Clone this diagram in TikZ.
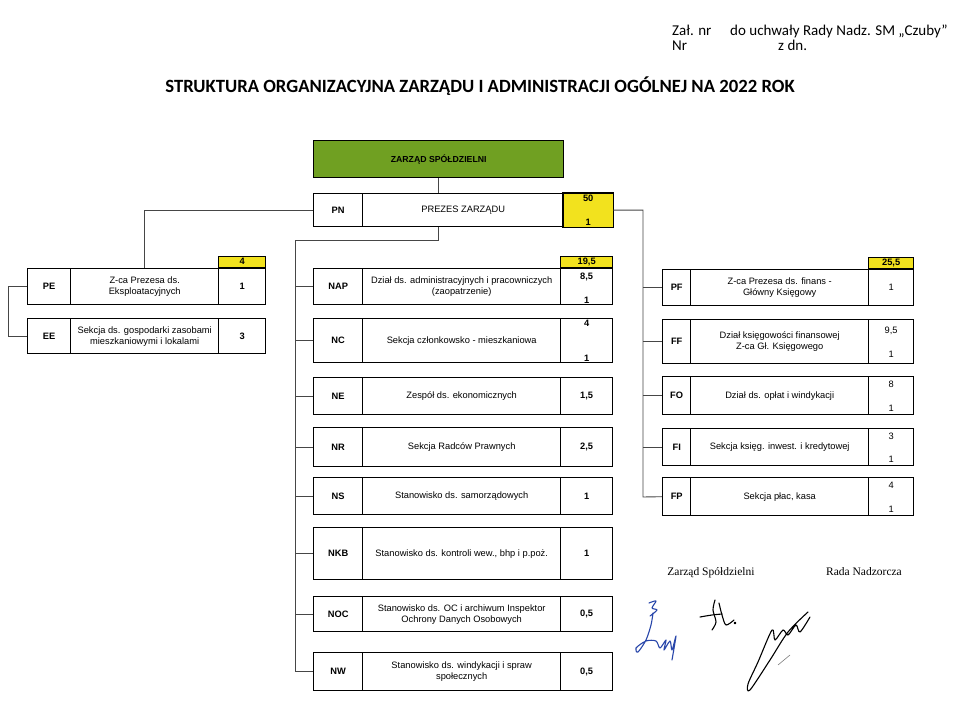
\documentclass[tikz,border=0pt]{standalone}
\usepackage{fontspec}
\setmainfont{Liberation Sans}
\newfontfamily\calib{Carlito}
\newfontfamily\tms{Liberation Serif}
\definecolor{zgreen}{RGB}{112,160,34}
\definecolor{zyellow}{RGB}{242,226,30}
\definecolor{conncol}{RGB}{70,70,70}
\definecolor{sigblue}{RGB}{40,70,170}
\newcommand\fsz{\fontsize{9.3}{11.2}\selectfont}
\tikzset{
  cellbase/.style={draw, line width=1.4pt, inner sep=0pt, anchor=north west, font=\fsz},
  cellc/.style={cellbase, font=\fsz\bfseries},
  celll/.style={cellbase, align=center},
  celln/.style={cellbase},
  yel/.style={draw, line width=1.4pt, fill=zyellow, inner sep=0pt, anchor=south west, font=\fsz\bfseries, minimum height=11pt},
  num/.style={inner sep=0pt, font=\fsz},
  bnum/.style={inner sep=0pt, font=\fsz\bfseries},
  conn/.style={draw=conncol, line width=0.9pt},
  sig/.style={line width=1.1pt, line cap=round, line join=round},
}
% #1 prefix, #2 xl, #3 xc, #4 xn, #5 xr, #6 ytop, #7 ybottom, #8 code, #9 label
\newcommand\orow[9]{%
  \pgfmathsetmacro\wc{#3-#2}\pgfmathsetmacro\wl{#4-#3}%
  \pgfmathsetmacro\wn{#5-#4}\pgfmathsetmacro\hh{#7-#6}%
  \node[cellc, minimum width=\wc pt, minimum height=\hh pt] (#1c) at (#2,#6) {#8};
  \node[celll, minimum width=\wl pt, minimum height=\hh pt] (#1l) at (#3,#6) {#9};
  \node[celln, minimum width=\wn pt, minimum height=\hh pt] (#1n) at (#4,#6) {};
}
\begin{document}
\begin{tikzpicture}[x=1pt,y=-1pt]
\useasboundingbox (0,0) rectangle (962,708);
\fill[white] (0,0) rectangle (962,708);

% header
\node[anchor=base west, inner sep=0pt, font=\calib\fontsize{15}{17}\selectfont] (h1) at (672,36) {Zał. nr};
\node[anchor=base west, inner sep=0pt, font=\calib\fontsize{15}{17}\selectfont] (h2) at (730,36) {do uchwały Rady Nadz. SM „Czuby”};
\node[anchor=base west, inner sep=0pt, font=\calib\fontsize{15}{17}\selectfont] (h3) at (672,51) {Nr};
\node[anchor=base west, inner sep=0pt, font=\calib\fontsize{15}{17}\selectfont] (h4) at (778,51) {z dn.};
\node[anchor=base, inner sep=0pt, font=\calib\bfseries\fontsize{18.7}{21}\selectfont] (title) at (480,93) {STRUKTURA ORGANIZACYJNA ZARZĄDU I ADMINISTRACJI OGÓLNEJ NA 2022 ROK};

% top
\node[draw, line width=1.4pt, fill=zgreen, anchor=north west, minimum width=250pt, minimum height=37pt, inner sep=0pt, font=\fontsize{8.7}{10}\selectfont\bfseries] (ZS) at (313,140) {ZARZĄD SPÓŁDZIELNI};
\orow{PN}{313}{362}{563}{612}{193}{226}{PN}{PREZES ZARZĄDU}
\fill[zyellow] (PNn.north west) rectangle (PNn.south east);
\draw[line width=1.4pt] (PNn.north west) rectangle (PNn.south east);
\node[bnum, anchor=north] (PNn1) at ([yshift=-2pt]PNn.north) {50};
\node[bnum, anchor=south] (PNn2) at ([yshift=2pt]PNn.south) {1};

% left group
\orow{PE}{27}{70}{218}{265}{268}{304}{PE}{Z-ca Prezesa ds.\\Eksploatacyjnych}
\node[bnum] (PEn1) at (PEn) {1};
\node[yel, minimum width=47pt] (PEy) at (PEn.north west) {4};
\orow{EE}{27}{70}{218}{265}{318}{353}{EE}{Sekcja ds. gospodarki zasobami\\mieszkaniowymi i lokalami}
\node[bnum] (EEn1) at (EEn) {3};

% middle group
\orow{NAP}{313}{362}{560}{612}{268}{304}{NAP}{Dział ds. administracyjnych i pracowniczych\\(zaopatrzenie)}
\node[bnum, anchor=north] (NAPn1) at ([yshift=-5pt]NAPn.north) {8,5};
\node[bnum, anchor=south] (NAPn2) at ([yshift=2pt]NAPn.south) {1};
\node[yel, minimum width=52pt] (NAPy) at (NAPn.north west) {19,5};
\orow{NC}{313}{362}{560}{612}{318}{362}{NC}{Sekcja członkowsko - mieszkaniowa}
\node[bnum, anchor=north] (NCn1) at ([yshift=-2pt]NCn.north) {4};
\node[bnum, anchor=south] (NCn2) at ([yshift=2pt]NCn.south) {1};
\orow{NE}{313}{362}{560}{612}{377}{414}{NE}{Zespół ds. ekonomicznych}
\node[bnum] (NEn1) at (NEn) {1,5};
\orow{NR}{313}{362}{560}{612}{427}{466}{NR}{Sekcja Radców Prawnych}
\node[bnum] (NRn1) at (NRn) {2,5};
\orow{NS}{313}{362}{560}{612}{477}{514}{NS}{Stanowisko ds. samorządowych}
\node[bnum] (NSn1) at (NSn) {1};
\orow{NKB}{313}{362}{560}{612}{527}{579}{NKB}{Stanowisko ds. kontroli wew., bhp i p.poż.}
\node[bnum] (NKBn1) at (NKBn) {1};
\orow{NOC}{313}{362}{560}{612}{596}{631}{NOC}{Stanowisko ds. OC i archiwum Inspektor\\Ochrony Danych Osobowych}
\node[bnum] (NOCn1) at (NOCn) {0,5};
\orow{NW}{313}{362}{560}{612}{652}{690}{NW}{Stanowisko ds. windykacji i spraw\\społecznych}
\node[bnum] (NWn1) at (NWn) {0,5};

% right group
\orow{PF}{662}{690}{868}{913}{269}{305}{PF}{Z-ca Prezesa ds. finans -\\Główny Księgowy}
\node[num] (PFn1) at (PFn) {1};
\node[yel, minimum width=45pt] (PFy) at (PFn.north west) {25,5};
\orow{FF}{662}{690}{868}{913}{319}{363}{FF}{Dział księgowości finansowej\\Z-ca Gł. Księgowego}
\node[num, anchor=north] (FFn1) at ([yshift=-8pt]FFn.north) {9,5};
\node[num, anchor=south] (FFn2) at ([yshift=7pt]FFn.south) {1};
\orow{FO}{662}{690}{868}{913}{376}{414}{FO}{Dział ds. opłat i windykacji}
\node[num, anchor=north] (FOn1) at ([yshift=-5pt]FOn.north) {8};
\node[num, anchor=south] (FOn2) at ([yshift=4pt]FOn.south) {1};
\orow{FI}{662}{690}{868}{913}{428}{465}{FI}{Sekcja księg. inwest. i kredytowej}
\node[num, anchor=north] (FIn1) at ([yshift=-5pt]FIn.north) {3};
\node[num, anchor=south] (FIn2) at ([yshift=4pt]FIn.south) {1};
\orow{FP}{662}{690}{868}{913}{477}{515}{FP}{Sekcja płac, kasa}
\node[num, anchor=north] (FPn1) at ([yshift=-5pt]FPn.north) {4};
\node[num, anchor=south] (FPn2) at ([yshift=4pt]FPn.south) {1};

% connectors
\coordinate (mb) at (295,240);
\coordinate (rb) at (643,497);
\coordinate (lb) at (8,286);
\draw[conn] (ZS.south) -- (ZS.south |- PNl.north);
\draw[conn] (ZS.south |- PNl.south) |- (mb) |- (NWc.west);
\foreach \n in {NAP,NC,NE,NR,NS,NKB,NOC} \draw[conn] (\n c.west) -- (\n c.west -| mb);
\draw[conn] (PNc.west) -| (PEl.north);
\draw[conn] (PEc.west) -- (PEc.west -| lb) |- (EEc.west);
\draw[conn] (PNn.east) -| (rb) -- (FPc.west);
\foreach \n in {PF,FF,FO,FI} \draw[conn] (\n c.west) -- (\n c.west -| rb);

% signatures
\node[anchor=base, inner sep=0pt, font=\tms\fontsize{11.5}{13}\selectfont] (sz) at (711,576) {Zarząd Spółdzielni};
\node[anchor=base, inner sep=0pt, font=\tms\fontsize{11.5}{13}\selectfont] (sr) at (864,576) {Rada Nadzorcza};
\draw[sig, sigblue] plot[smooth] coordinates {(649,603) (656,601) (652,608) (657,610) (650,616)};
\draw[sig, sigblue] plot[smooth] coordinates {(653,613) (651,625) (646,640) (638,652) (636,648) (646,641) (656,641) (660,648) (666,640) (664,650) (670,641) (672,650) (676,636) (672,660)};
\draw[sig] plot[smooth] coordinates {(700,617) (712,615) (722,614)};
\draw[sig] plot[smooth] coordinates {(715,600) (713,610) (716,622) (712,630)};
\draw[sig] plot[smooth] coordinates {(719,603) (722,615) (726,625) (734,620)};
\draw[sig] (735,623) circle (0.8pt);
\draw[sig] plot[smooth] coordinates {(808,612) (788,632) (770,660) (750,690) (748,684) (758,662) (772,630) (775,640) (783,630) (788,635) (796,625) (800,632) (810,617)};
\draw[line width=0.6pt, gray] (778,665) -- (790,655);
\end{tikzpicture}
\end{document}
